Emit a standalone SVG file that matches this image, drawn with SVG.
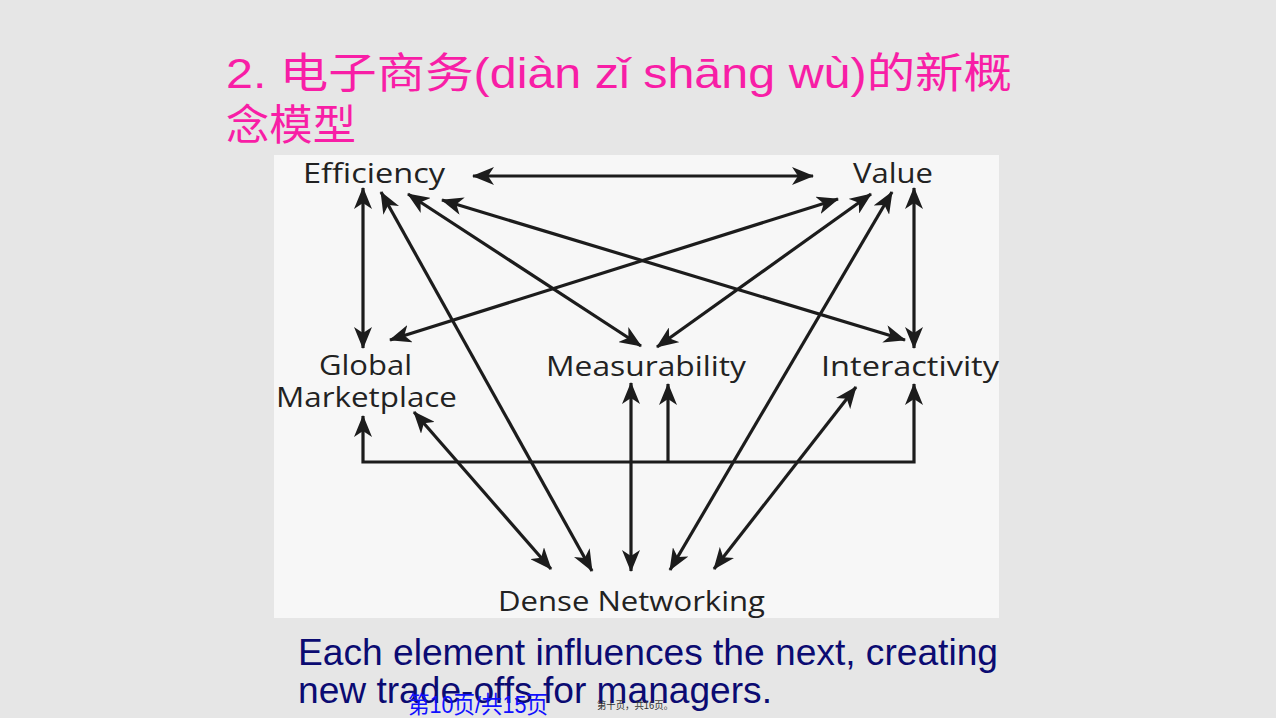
<svg xmlns="http://www.w3.org/2000/svg" width="1276" height="718" viewBox="0 0 1276 718">
<style>
.title{font-family:"Liberation Sans","Noto Sans CJK SC",sans-serif;font-size:42px;fill:#f81ea6}
.lbl{font-family:"Open Sans","DejaVu Sans",sans-serif;font-size:27px;fill:#222}
.body{font-family:"Liberation Sans",Arial,sans-serif;font-size:36px;fill:#0b0b72}
.pg{font-family:"Liberation Sans","Noto Sans CJK SC",sans-serif;font-size:24px;fill:#1010ff}
.pg2{font-family:"Liberation Sans","Noto Sans CJK SC",sans-serif;font-size:10px;fill:#333}
.c{stroke:#1c1c1c;stroke-width:3.2;fill:none}
</style>
<defs>
<marker id="ah" viewBox="0 0 22 18" refX="21" refY="9" markerWidth="22" markerHeight="18" markerUnits="userSpaceOnUse" orient="auto-start-reverse">
<path d="M0,0 L22,9 L0,18 L6,9 z" fill="#1c1c1c"/>
</marker>
</defs>
<rect x="0" y="0" width="1276" height="718" fill="#e6e6e6"/>
<rect x="274" y="155" width="725" height="463" fill="#f7f7f7"/>
<g id="title">
<text class="title" x="226" y="88" textLength="786" lengthAdjust="spacingAndGlyphs">2. 电子商务(diàn zǐ shāng wù)的新概</text>
<text class="title" x="226" y="140" textLength="130" lengthAdjust="spacingAndGlyphs">念模型</text>
</g>
<g id="connectors">
<line class="c" x1="473" y1="176" x2="813" y2="176" marker-start="url(#ah)" marker-end="url(#ah)"/>
<line class="c" x1="363" y1="188" x2="363" y2="348" marker-start="url(#ah)" marker-end="url(#ah)"/>
<line class="c" x1="914" y1="188" x2="914" y2="348" marker-start="url(#ah)" marker-end="url(#ah)"/>
<line class="c" x1="381" y1="192" x2="592" y2="571" marker-start="url(#ah)" marker-end="url(#ah)"/>
<line class="c" x1="408" y1="194" x2="641" y2="346" marker-start="url(#ah)" marker-end="url(#ah)"/>
<line class="c" x1="442" y1="200" x2="905" y2="340" marker-start="url(#ah)" marker-end="url(#ah)"/>
<line class="c" x1="838" y1="199" x2="390" y2="340" marker-start="url(#ah)" marker-end="url(#ah)"/>
<line class="c" x1="871" y1="194" x2="657" y2="347" marker-start="url(#ah)" marker-end="url(#ah)"/>
<line class="c" x1="892" y1="192" x2="670" y2="570" marker-start="url(#ah)" marker-end="url(#ah)"/>
<line class="c" x1="631" y1="383" x2="631" y2="571" marker-start="url(#ah)" marker-end="url(#ah)"/>
<line class="c" x1="414" y1="412" x2="551" y2="569" marker-start="url(#ah)" marker-end="url(#ah)"/>
<line class="c" x1="856" y1="387" x2="714" y2="569" marker-start="url(#ah)" marker-end="url(#ah)"/>
<polyline class="c" points="363,416 363,462 914,462 914,384" marker-start="url(#ah)" marker-end="url(#ah)"/>
<line class="c" x1="668" y1="462" x2="668" y2="384" marker-end="url(#ah)"/>
</g>
<g id="efficiency"><text class="lbl" x="303" y="183" textLength="142" lengthAdjust="spacingAndGlyphs">Efficiency</text></g>
<g id="value"><text class="lbl" x="853" y="183" textLength="80" lengthAdjust="spacingAndGlyphs">Value</text></g>
<g id="global-marketplace">
<text class="lbl" x="319" y="375" textLength="93" lengthAdjust="spacingAndGlyphs">Global</text>
<text class="lbl" x="276" y="407" textLength="181" lengthAdjust="spacingAndGlyphs">Marketplace</text>
</g>
<g id="measurability"><text class="lbl" x="546" y="376" textLength="200" lengthAdjust="spacingAndGlyphs">Measurability</text></g>
<g id="interactivity"><text class="lbl" x="821" y="376" textLength="178" lengthAdjust="spacingAndGlyphs">Interactivity</text></g>
<g id="dense-networking"><text class="lbl" x="498" y="611" textLength="267" lengthAdjust="spacingAndGlyphs">Dense Networking</text></g>
<g id="caption">
<text class="body" x="298" y="665" textLength="700" lengthAdjust="spacingAndGlyphs">Each element influences the next, creating</text>
<text class="body" x="298" y="703" textLength="474" lengthAdjust="spacingAndGlyphs">new trade-offs for managers.</text>
</g>
<g id="page">
<text class="pg" x="408" y="713" textLength="140" lengthAdjust="spacingAndGlyphs">第10页/共15页</text>
<text class="pg2" x="597" y="709" textLength="76" lengthAdjust="spacingAndGlyphs">第十页，共16页。</text>
</g>
</svg>
